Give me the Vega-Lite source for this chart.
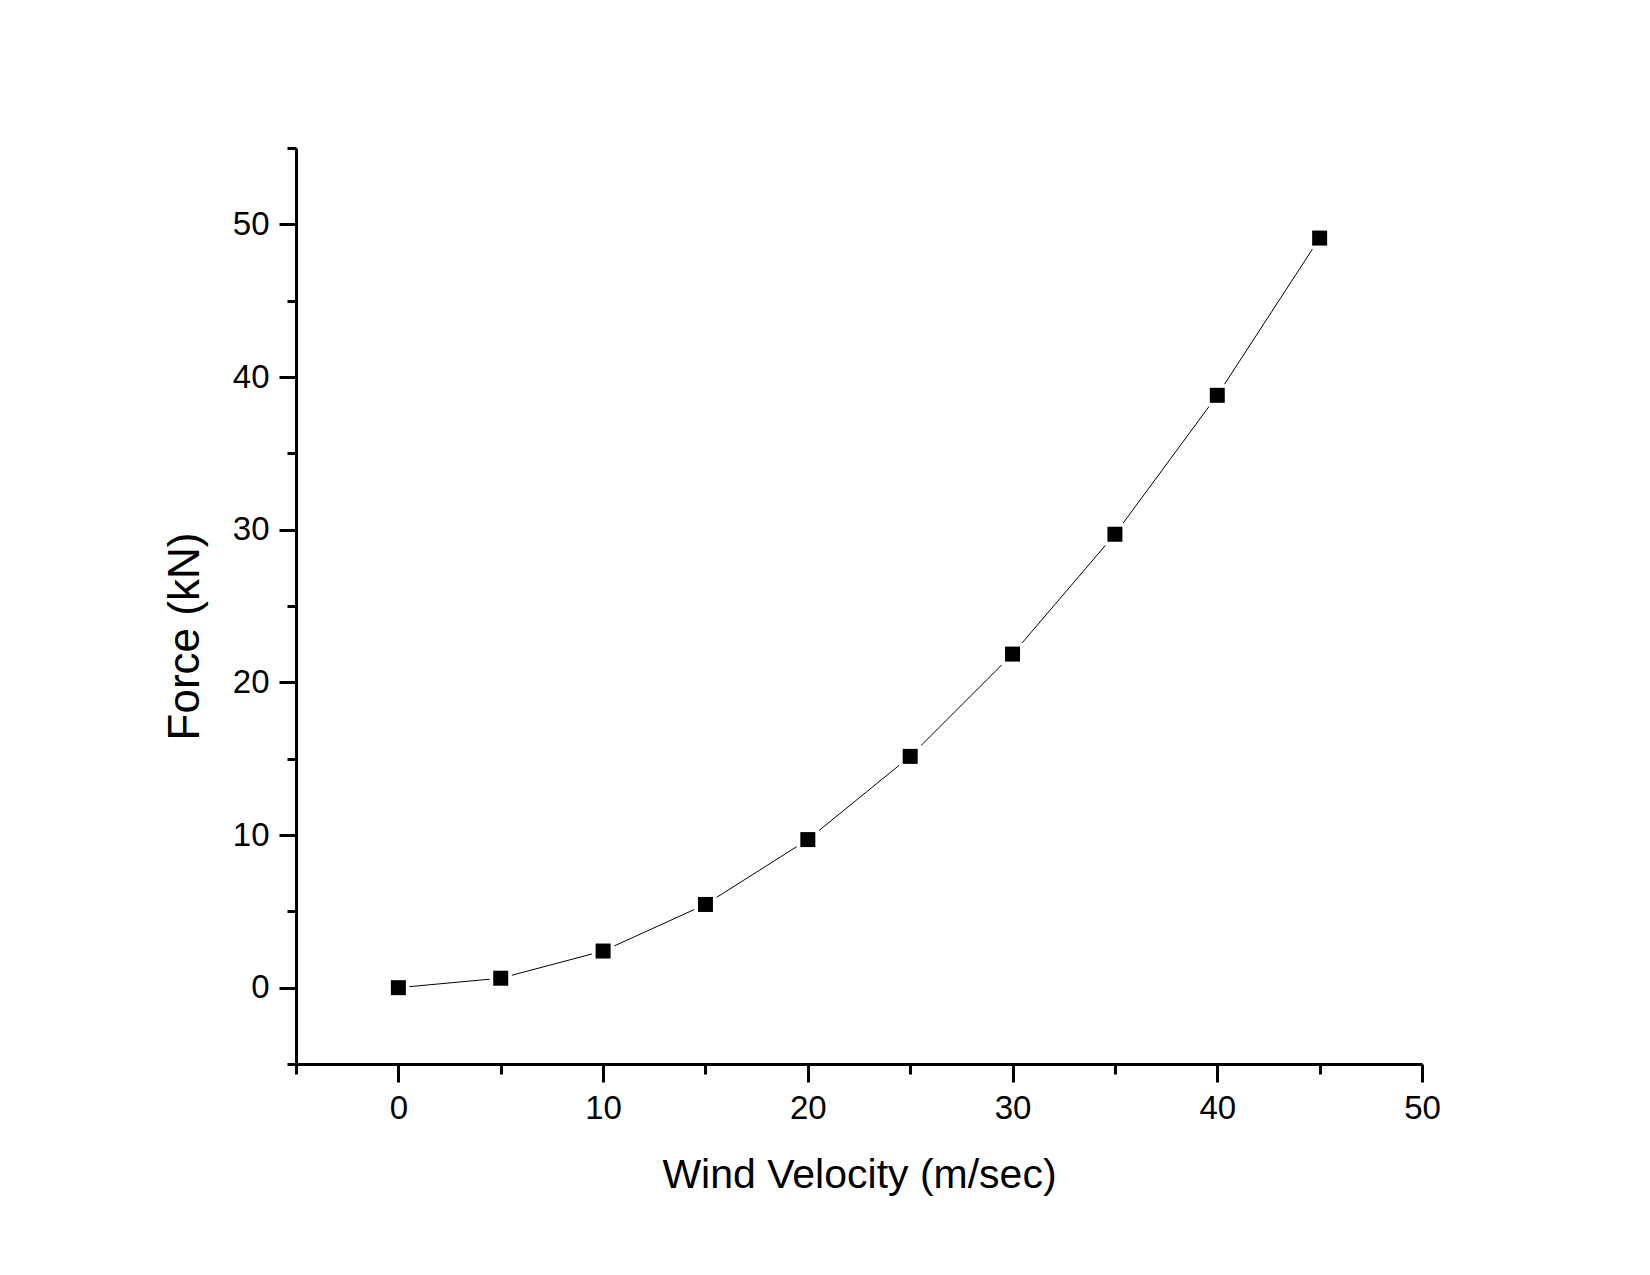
{
  "$schema": "https://vega.github.io/schema/vega-lite/v6.json",
  "width": 1126,
  "height": 916,
  "autosize": "none",
  "padding": {"left": 296, "top": 148, "right": 228, "bottom": 211},
  "background": "white",
  "config": {
    "view": {"stroke": null},
    "font": "Liberation Sans",
    "axis": {
      "domainColor": "black", "domainWidth": 3, "tickColor": "black", "tickWidth": 3,
      "labelColor": "black", "titleColor": "black", "grid": false, "labelFlush": false, "labelOverlap": false,
      "labelFont": "Liberation Sans", "titleFont": "Liberation Sans",
      "labelFontSize": 33, "titleFontSize": 42, "titleFontWeight": "normal"
    }
  },
  "data": {"values": [
    {"v": 0, "f": 0.0},
    {"v": 5, "f": 0.62},
    {"v": 10, "f": 2.4},
    {"v": 15, "f": 5.45},
    {"v": 20, "f": 9.7},
    {"v": 25, "f": 15.15},
    {"v": 30, "f": 21.85},
    {"v": 35, "f": 29.7},
    {"v": 40, "f": 38.8},
    {"v": 45, "f": 49.1}
  ]},
  "resolve": {"axis": {"x": "independent", "y": "independent"}},
  "layer": [
    {
      "mark": {"type": "line", "color": "black", "strokeWidth": 1},
      "encoding": {
        "x": {"field": "v", "type": "quantitative", "scale": {"domain": [-5, 50], "nice": false, "zero": false},
          "axis": {"orient": "bottom", "values": [0, 10, 20, 30, 40, 50], "tickSize": 18, "tickWidth": 3, "labelPadding": 10,
            "title": "Wind Velocity (m/sec)", "titlePadding": 30, "titleFontSize": 41}},
        "y": {"field": "f", "type": "quantitative", "scale": {"domain": [-5, 55], "nice": false, "zero": false},
          "axis": {"orient": "left", "values": [0, 10, 20, 30, 40, 50], "tickSize": 17, "tickWidth": 3, "labelPadding": 10,
            "title": "Force (kN)", "titlePadding": 25, "titleY": 488, "titleFontSize": 44}}
      }
    },
    {
      "mark": {"type": "point", "shape": "square", "filled": true, "color": "white", "opacity": 1, "size": 500},
      "encoding": {
        "x": {"field": "v", "type": "quantitative", "scale": {"domain": [-5, 50], "nice": false, "zero": false},
          "axis": {"orient": "bottom", "values": [-5, 5, 15, 25, 35, 45], "tickSize": 10, "tickWidth": 3, "labels": false, "title": null, "domain": false}},
        "y": {"field": "f", "type": "quantitative", "scale": {"domain": [-5, 55], "nice": false, "zero": false},
          "axis": {"orient": "left", "values": [-5, 5, 15, 25, 35, 45, 55], "tickSize": 9, "tickWidth": 3, "labels": false, "title": null, "domain": false}}
      }
    },
    {
      "mark": {"type": "point", "shape": "square", "filled": true, "color": "black", "opacity": 1, "size": 225},
      "encoding": {
        "x": {"field": "v", "type": "quantitative", "scale": {"domain": [-5, 50], "nice": false, "zero": false}, "axis": null},
        "y": {"field": "f", "type": "quantitative", "scale": {"domain": [-5, 55], "nice": false, "zero": false}, "axis": null}
      }
    }
  ]
}
